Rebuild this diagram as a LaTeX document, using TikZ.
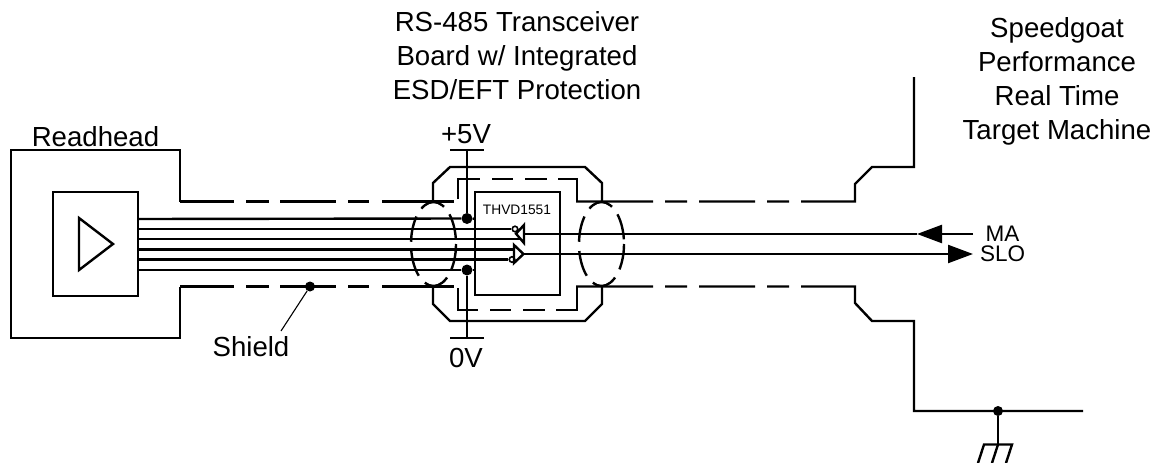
\documentclass[tikz,border=0pt]{standalone}
\usepackage{fontspec}
\setmainfont{Liberation Sans}
\usetikzlibrary{arrows.meta}
\tikzset{
  ln/.style={line width=2.4pt,line join=miter,line cap=butt,black},
  box/.style={draw,line width=2.4pt,inner sep=0pt,minimum width=#1},
  dot/.style={circle,fill=black,inner sep=0pt,minimum size=11pt},
  bub/.style={circle,draw,fill=white,line width=1.6pt,inner sep=0pt,minimum size=5.5pt},
  lab/.style={font=\fontsize{27.6pt}{34pt}\selectfont,align=center,inner sep=0pt},
  sig/.style={font=\fontsize{22.5pt}{24pt}\selectfont,inner sep=0pt},
  leftdash/.style={ln,dash pattern=on 54pt off 12pt on 23pt off 11pt on 56pt off 12pt on 21pt off 13pt on 80pt off 1pt},
  rightdash/.style={ln,dash pattern=on 77pt off 12pt on 22pt off 12pt on 56pt off 12pt on 22pt off 12pt on 900pt off 1pt},
  innerdash/.style={ln,dash pattern=on 42pt off 12pt on 21pt off 12pt on 22pt off 11pt on 100pt off 1pt},
  ell/.style={ln,dash pattern=on 26pt off 9.3pt,dash phase=30.6pt},
  tip/.style={-{Triangle[length=25pt,width=18pt]}}
}
\begin{document}
\begin{tikzpicture}[x=1pt,y=-1pt]
\useasboundingbox (0,0) rectangle (1159,463);
% texts
\node[lab] (tRead) at (95.5,137) {Readhead};
\node[lab] (tRS) at (517,56) {RS-485 Transceiver\\Board w/ Integrated\\ESD/EFT Protection};
\node[lab] (tSG) at (1057,81) {Speedgoat\\Performance\\Real Time\\Target Machine};
\node[lab] (tP5) at (466,134) {+5V};
\node[lab] (t0V) at (466,358) {0V};
\node[lab] (tSh) at (251,347) {Shield};
\node[sig] (tMA) at (1002.5,233.5) {MA};
\node[sig] (tSL) at (1002.5,254) {SLO};
% boxes
\node[box=85pt,minimum height=104pt] (head) at (95.5,244) {};
\node[box=85pt,minimum height=103pt] (ic) at (517.5,243.5) {};
\node[font=\fontsize{13.75pt}{15pt}\selectfont,inner sep=0pt] (tIC) at (517,209.5) {THVD1551};
\draw[ln] (79,218) -- (113,244) -- (79,270) -- cycle;
% readhead housing + shield
\draw[ln] (180,201.5) -- (180,150) -- (11,150) -- (11,338) -- (180,338) -- (180,286.5);
\draw[leftdash] (180,201.5) -- (454,201.5);
\draw[leftdash] (180,286.5) -- (454,286.5);
% board outer
\draw[ln] (433,201.5) -- (433,183) -- (450,167) -- (585,167) -- (602,183) -- (602,201.5);
\draw[ln] (433,286.5) -- (433,304) -- (450,321) -- (585,321) -- (602,304) -- (602,286.5);
% board inner dashed
\draw[innerdash] (458,199) -- (458,179) -- (577,179) -- (577,201.5);
\draw[innerdash] (458,288) -- (458,310) -- (577,310) -- (577,286.5);
% right shield
\draw[rightdash] (576,201.5) -- (855,201.5) -- (855,184) -- (872,167) -- (914,167) -- (914,77);
\draw[rightdash] (576,286.5) -- (855,286.5) -- (855,303) -- (872,321) -- (914,321) -- (914,411) -- (1083,411);
% ellipses
\coordinate (eL) at (433.5,244);
\coordinate (eR) at (601.5,244);
\draw[ell] (eL) ellipse [x radius=22.5pt,y radius=42pt];
\draw[ell] (eR) ellipse [x radius=22.5pt,y radius=42pt];
% dots
\node[dot] (d1) at (467,218.5) {};
\node[dot] (d2) at (467,270) {};
\node[dot,minimum size=10pt] (dS) at (310,286.5) {};
\node[dot,minimum size=10pt] (dG) at (998,411) {};
% supplies
\coordinate (p5) at (467,150);
\coordinate (g0) at (467,338);
\draw[ln] (450,150) -- (484,150);
\draw[ln] (450,338) -- (484,338);
\draw[ln] (p5) -- (d1);
\draw[ln] (g0) -- (d2);
% driver/receiver
\node[bub] (bA) at (515,229) {};
\node[bub] (bB) at (512,259.5) {};
\draw[ln] (524,225) -- (516,233.7) -- (524,243) -- cycle;
\draw[ln] (514,245) -- (523.5,254) -- (514,263) -- cycle;
% wires
\draw[ln] (138,219) -- (d1.west);
\draw[ln] (d1.east) -- (475,219);
\draw[ln] (138,229) -- (bA.west);
\draw[ln] (138,239) -- (520,239);
\draw[ln] (138,249.3) -- (514,249.3);
\draw[ln] (138,259.5) -- (bB.west);
\draw[ln] (138,270) -- (d2.west);
\draw[ln] (d2.east) -- (475,270);
% outgoing
\coordinate (maT) at (973,234);
\coordinate (maH) at (917,234);
\coordinate (slT) at (973,254);
\draw[ln] (maH) -- (524,234);
\draw[ln,tip] (maT) -- (maH);
\draw[ln,tip] (524,254) -- (slT);
% leader
\draw[line width=1.1pt] (dS) -- (281,331);
% ground
\coordinate (gnd) at (998,444.5);
\draw[ln] (dG) -- (gnd);
\draw[ln] (978,463) -- (984,444.5) -- (1012,444.5) -- (1006,463);
\draw[ln] (992,463) -- (gnd);
\end{tikzpicture}
\end{document}
